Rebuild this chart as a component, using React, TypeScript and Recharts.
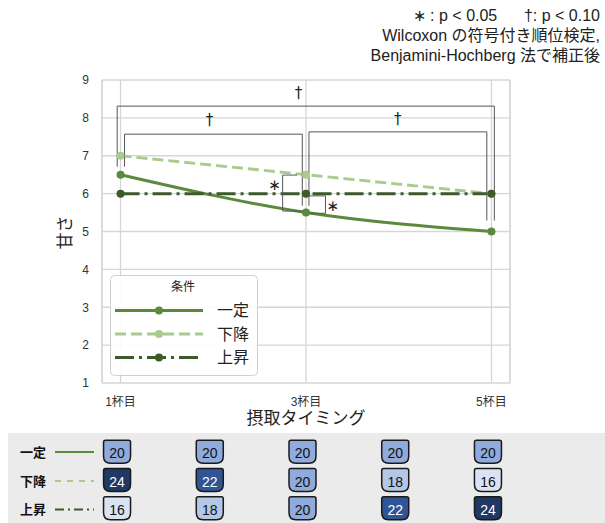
import React from "react";
import {
  LineChart,
  Line,
  XAxis,
  YAxis,
  CartesianGrid,
  ReferenceLine,
  ReferenceDot,
  ScatterChart,
  Scatter,
} from "recharts";

// --- data ---
const timings = [1, 3, 5];
const timingLabels: Record<number, string> = { 1: "1杯目", 3: "3杯目", 5: "5杯目" };
const constantSweet = [6.5, 5.5, 5.0];
const decreasingSweet = [7.0, 6.5, 6.0];
const increasingSweet = [6.0, 6.0, 6.0];
const yTicks = [1, 2, 3, 4, 5, 6, 7, 8, 9];

const cupColumns = [1, 2, 3, 4, 5];
const constantCups = [20, 20, 20, 20, 20];
const decreasingCups = [24, 22, 20, 18, 16];
const increasingCups = [16, 18, 20, 22, 24];

const FONT = '"Liberation Sans", "Noto Sans CJK JP", sans-serif';

const series = [
  { key: "constant", name: "一定", color: "#5b8a3c", dash: undefined as string | undefined },
  { key: "decreasing", name: "下降", color: "#a9cc8e", dash: "11 5" },
  { key: "increasing", name: "上昇", color: "#3d5a2b", dash: "19 5 3 5" },
];

const lineData = timings.map((t, i) => ({
  t,
  constant: constantSweet[i],
  decreasing: decreasingSweet[i],
  increasing: increasingSweet[i],
}));

// significance brackets (data coords)
const wideBrackets = [
  { x1: 0.964, x2: 5.031, top: 8.31, leftEnd: 6.71, rightEnd: 5.29, markX: 2.92, markY: 8.66 },
  { x1: 1.043, x2: 2.96, top: 7.57, leftEnd: 6.71, rightEnd: 5.68, markX: 1.96, markY: 7.94 },
  { x1: 3.032, x2: 4.95, top: 7.63, leftEnd: 5.68, rightEnd: 5.29, markX: 3.99, markY: 7.96 },
];

const starBrackets = [
  {
    segs: [
      [2.748, 6.49, 2.903, 6.49],
      [2.748, 6.49, 2.748, 5.54],
      [2.748, 5.54, 2.97, 5.54],
    ],
    markX: 2.66,
    markY: 6.23,
  },
  {
    segs: [
      [3.025, 5.94, 3.21, 5.94],
      [3.21, 5.94, 3.21, 5.48],
      [3.01, 5.48, 3.21, 5.48],
    ],
    markX: 3.29,
    markY: 5.67,
  },
];

const cupRows = [
  { y: 3, values: constantCups },
  { y: 2, values: decreasingCups },
  { y: 1, values: increasingCups },
];

function cupFill(v: number) {
  if (v >= 24) return "#1f3864";
  if (v >= 22) return "#2f5597";
  if (v >= 20) return "#8faadc";
  if (v >= 18) return "#b4c7e7";
  return "#dae3f3";
}

function Cup(props: any) {
  const { cx, cy, payload } = props;
  const w = 27, h = 23, rt = 2, rb = 7;
  const l = cx - w / 2, r = cx + w / 2, t = cy - h / 2, b = cy + h / 2;
  const d = `M${l + rt},${t} L${r - rt},${t} Q${r},${t} ${r},${t + rt} L${r},${b - rb} Q${r},${b} ${r - rb},${b} L${l + rb},${b} Q${l},${b} ${l},${b - rb} L${l},${t + rt} Q${l},${t} ${l + rt},${t} Z`;
  const v = payload.v;
  return (
    <g>
      <path d={d} fill={cupFill(v)} stroke="#1a1a1a" strokeWidth={1.5} />
      <text
        x={cx}
        y={cy + 1.5}
        textAnchor="middle"
        dominantBaseline="central"
        fontSize={14}
        fontFamily={FONT}
        fill={v >= 22 ? "#fff" : "#111"}
      >
        {v}
      </text>
    </g>
  );
}

function YTitle(props: any) {
  const vb = props.viewBox || { x: 62, y: 80, height: 303 };
  const x = vb.x + 3;
  const y = vb.y + vb.height / 2 + 1;
  return (
    <text
      x={x}
      y={y}
      transform={`rotate(-90 ${x} ${y})`}
      textAnchor="middle"
      dominantBaseline="central"
      fontSize={17}
      fill="#222"
      fontFamily={FONT}
    >
      甘さ
    </text>
  );
}

function Mark(props: any) {
  const vb = props.viewBox;
  const cx = vb.x + vb.width / 2;
  const cy = vb.y + vb.height / 2;
  return (
    <text
      x={cx}
      y={cy}
      textAnchor="middle"
      dominantBaseline="central"
      fontSize={props.size}
      fill="#222"
      fontFamily='"DejaVu Sans", sans-serif'
    >
      {props.value}
    </text>
  );
}

const gridColor = "#d6d6d6";
const bracketColor = "#555";

export default function App() {
  return (
    <div
      style={{
        position: "absolute",
        left: 0,
        top: 0,
        width: 605,
        height: 523,
        background: "#fff",
        fontFamily: FONT,
        overflow: "hidden",
      }}
    >
      <div style={{ position: "absolute", left: 0, top: 0 }}>
        <LineChart
          width={605}
          height={433}
          data={lineData}
          margin={{ top: 80, right: 95, bottom: 5, left: 62 }}
        >
          <CartesianGrid stroke={gridColor} strokeWidth={1.3} />
          <XAxis
            dataKey="t"
            type="number"
            domain={[0.8, 5.2]}
            ticks={timings}
            tickFormatter={(v: number) => timingLabels[v] ?? ""}
            tick={{ fontSize: 12, fill: "#333" }}
            axisLine={false}
            tickLine={false}
            tickMargin={8}
            height={45}
            label={{ value: "摂取タイミング", position: "insideBottom", offset: 4, fontSize: 17, fill: "#222" }}
          />
          <YAxis
            type="number"
            domain={[1, 9]}
            ticks={yTicks}
            tick={{ fontSize: 12, fill: "#333" }}
            axisLine={false}
            tickLine={false}
            tickMargin={7}
            width={40}
            label={<YTitle />}
          />
          <ReferenceLine x={0.8} stroke={gridColor} strokeWidth={1.3} />
          <ReferenceLine x={5.2} stroke={gridColor} strokeWidth={1.3} />

          {series.map((s) => (
            <Line
              key={s.key}
              type="monotone"
              dataKey={s.key}
              name={s.name}
              stroke={s.color}
              strokeWidth={3}
              strokeDasharray={s.dash}
              dot={{ r: 4, fill: s.color, stroke: s.color, strokeWidth: 0, strokeDasharray: "" }}
              isAnimationActive={false}
            />
          ))}

          {wideBrackets.map((b, i) => (
            <React.Fragment key={"wb" + i}>
              <ReferenceLine
                segment={[{ x: b.x1, y: b.leftEnd }, { x: b.x1, y: b.top }]}
                stroke={bracketColor}
                strokeWidth={1}
                ifOverflow="visible"
              />
              <ReferenceLine
                segment={[{ x: b.x1, y: b.top }, { x: b.x2, y: b.top }]}
                stroke={bracketColor}
                strokeWidth={1}
                ifOverflow="visible"
              />
              <ReferenceLine
                segment={[{ x: b.x2, y: b.top }, { x: b.x2, y: b.rightEnd }]}
                stroke={bracketColor}
                strokeWidth={1}
                ifOverflow="visible"
              />
              <ReferenceDot
                x={b.markX}
                y={b.markY}
                r={0}
                fill="none"
                stroke="none"
                ifOverflow="visible"
                label={<Mark value="†" size={15} />}
              />
            </React.Fragment>
          ))}

          {starBrackets.map((b, i) => (
            <React.Fragment key={"sb" + i}>
              {b.segs.map((s, j) => (
                <ReferenceLine
                  key={j}
                  segment={[{ x: s[0], y: s[1] }, { x: s[2], y: s[3] }]}
                  stroke={bracketColor}
                  strokeWidth={1}
                  ifOverflow="visible"
                />
              ))}
              <ReferenceDot
                x={b.markX}
                y={b.markY}
                r={0}
                fill="none"
                stroke="none"
                ifOverflow="visible"
                label={<Mark value="∗" size={15} />}
              />
            </React.Fragment>
          ))}
        </LineChart>
      </div>

      {/* legend */}
      <svg style={{ position: "absolute", left: 110, top: 275 }} width={148} height={101}>
        <rect x={0.5} y={0.5} width={147} height={100} rx={4} fill="#fff" fillOpacity={0.9} stroke="#cfcfcf" />
        <text x={73} y={12} textAnchor="middle" dominantBaseline="central" fontSize={12} fill="#222" fontFamily={FONT}>
          条件
        </text>
        {series.map((s, i) => {
          const y = [35.5, 59, 82.5][i];
          return (
            <g key={s.key}>
              <line x1={5} x2={93} y1={y} y2={y} stroke={s.color} strokeWidth={3} strokeDasharray={s.dash} />
              <circle cx={49} cy={y} r={4} fill={s.color} />
              <text x={107} y={y} dominantBaseline="central" fontSize={16} fill="#222" fontFamily={FONT}>
                {s.name}
              </text>
            </g>
          );
        })}
      </svg>

      {/* note */}
      <div
        style={{
          position: "absolute",
          right: 5,
          top: 6,
          textAlign: "right",
          fontSize: 16,
          lineHeight: "20px",
          color: "#222",
          whiteSpace: "pre",
        }}
      >
        {"∗ : p < 0.05      †: p < 0.10\nWilcoxon の符号付き順位検定,\nBenjamini-Hochberg 法で補正後"}
      </div>

      {/* cup table */}
      <div style={{ position: "absolute", left: 8, top: 433, width: 597, height: 90, background: "#ebebeb" }} />
      <svg style={{ position: "absolute", left: 0, top: 433 }} width={110} height={90}>
        {series.map((s, i) => {
          const y = [19, 48, 76.5][i];
          const dash = i === 1 ? "6 6" : i === 2 ? "9 4 2 4" : undefined;
          return (
            <g key={s.key}>
              <text x={20} y={y} dominantBaseline="central" fontSize={13} fontWeight="bold" fill="#111" fontFamily={FONT}>
                {s.name}
              </text>
              <line x1={55} x2={94} y1={y} y2={y} stroke={s.color} strokeWidth={2} strokeDasharray={dash} />
            </g>
          );
        })}
      </svg>
      <div style={{ position: "absolute", left: 0, top: 433 }}>
        <ScatterChart width={605} height={90} margin={{ top: 4.5, right: 98.5, bottom: 0.5, left: 98.5 }}>
          <XAxis type="number" dataKey="x" domain={[0.8, 5.2]} hide />
          <YAxis type="number" dataKey="y" domain={[0.5, 3.5]} hide />
          {cupRows.map((row, ri) => (
            <Scatter
              key={ri}
              data={cupColumns.map((c, ci) => ({ x: c, y: row.y, v: row.values[ci] }))}
              shape={<Cup />}
              isAnimationActive={false}
            />
          ))}
        </ScatterChart>
      </div>
    </div>
  );
}
